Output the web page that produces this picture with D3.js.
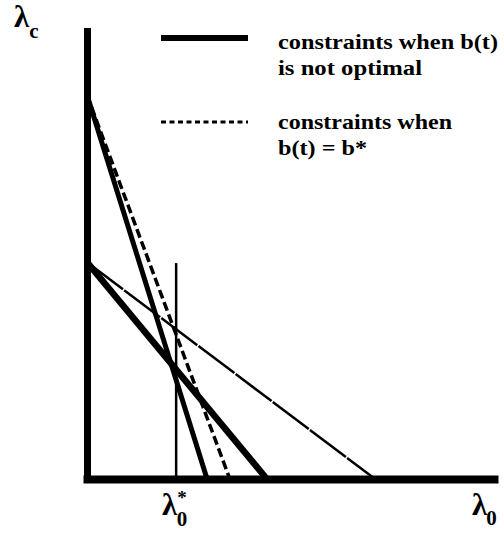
<!DOCTYPE html>
<html>
<head>
<meta charset="utf-8">
<script src="https://cdn.jsdelivr.net/npm/d3@7"></script>
<style>
  html, body { margin: 0; padding: 0; background: #fff; }
  svg { display: block; }
  text { font-family: "Liberation Serif", "DejaVu Serif", serif; font-weight: bold; fill: #000; }
</style>
</head>
<body>
<script>
// ---- data (axis units: lambda_0 horizontal, lambda_c vertical) ----
const lineNames   = ["steepSolid", "steepDashed", "shallowSolid", "shallowThin"];
const yIntercepts = [8.57, 8.57, 4.84, 4.84];   // lambda_c where lambda_0 = 0
const xIntercepts = [2.95, 3.51, 4.42, 7.08];   // lambda_0 where lambda_c = 0
const lineKinds   = ["thick", "dashed", "thicker", "thin"];
const lambdaStar  = 2.19;     // lambda_0*
const lambdaStarTop = 4.82;   // top of the vertical marker
const legendLabels = [
  ["constraints when b(t)", "is not optimal"],
  ["constraints when", "b(t) = b*"]
];
const legendKinds = ["legendSolid", "legendDashed"];

const W = 504, H = 537;
const svg = d3.select("body").append("svg").attr("width", W).attr("height", H);

const x = d3.scaleLinear().domain([0, 10]).range([87, 494]);
const y = d3.scaleLinear().domain([0, 10]).range([479, 31]);

const styles = {
  thick:   { w: 5,   dash: null },
  dashed:  { w: 3.5, dash: "9,4" },
  thicker: { w: 6.5, dash: null },
  thin:    { w: 2.5, dash: "45,1.5" },
  legendSolid:  { w: 6, dash: null },
  legendDashed: { w: 3, dash: "5,3.5" }
};

// constraint lines
const lineGen = d3.line().x(d => x(d[0])).y(d => y(d[1]));
const lines = lineNames.map((n, i) => ({
  name: n, kind: lineKinds[i],
  pts: [[0, yIntercepts[i]], [xIntercepts[i], 0]]
}));
svg.append("g").selectAll("path").data(lines).join("path")
  .attr("d", d => lineGen(d.pts))
  .attr("fill", "none")
  .attr("stroke", "#000")
  .attr("stroke-width", d => styles[d.kind].w)
  .attr("stroke-dasharray", d => styles[d.kind].dash);

// vertical marker at lambda_0*
svg.append("path")
  .attr("d", lineGen([[lambdaStar, 0], [lambdaStar, lambdaStarTop]]))
  .attr("stroke", "#000").attr("stroke-width", 2.5).attr("fill", "none");

// axes (no ticks)
const xAxis = svg.append("g").attr("transform", `translate(0,${y(0)})`)
  .call(d3.axisBottom(x).tickValues([]).tickSizeOuter(0));
const yAxis = svg.append("g").attr("transform", `translate(${x(0)},0)`)
  .call(d3.axisLeft(y).tickValues([]).tickSizeOuter(0));
xAxis.select(".domain").attr("stroke-width", 8).attr("stroke-linecap", "square");
yAxis.select(".domain").attr("stroke-width", 7).attr("stroke-linecap", "square");

// axis labels
const lc = svg.append("text").attr("x", 14).attr("y", 27).attr("font-size", 31);
lc.append("tspan").text("λ");
lc.append("tspan").attr("font-size", 21).attr("dy", 11).text("c");

const l0s = svg.append("text").attr("x", 162).attr("y", 515).attr("font-size", 31);
l0s.append("tspan").text("λ");
l0s.append("tspan").attr("font-size", 19).attr("dy", -11).attr("dx", 0).text("*");
l0s.append("tspan").attr("font-size", 21).attr("dy", 22).attr("dx", -10).text("0");

const l0 = svg.append("text").attr("x", 472).attr("y", 515).attr("font-size", 31);
l0.append("tspan").text("λ");
l0.append("tspan").attr("font-size", 21).attr("dy", 10).attr("dx", -1).text("0");

// legend
const legY = [38, 122];
const legendG = svg.append("g");
legendKinds.forEach((k, i) => {
  legendG.append("line")
    .attr("x1", 161).attr("x2", 248).attr("y1", legY[i]).attr("y2", legY[i])
    .attr("stroke", "#000").attr("stroke-width", styles[k].w)
    .attr("stroke-dasharray", styles[k].dash);
});
const textBase = [[49, 75], [129, 155]];
const textWidths = [[220, 144], [174, 89]];
legendLabels.forEach((lines2, i) => {
  lines2.forEach((t, j) => {
    legendG.append("text")
      .attr("x", 278).attr("y", textBase[i][j])
      .attr("font-size", 22)
      .attr("textLength", textWidths[i][j])
      .attr("lengthAdjust", "spacingAndGlyphs")
      .text(t);
  });
});
</script>
</body>
</html>
